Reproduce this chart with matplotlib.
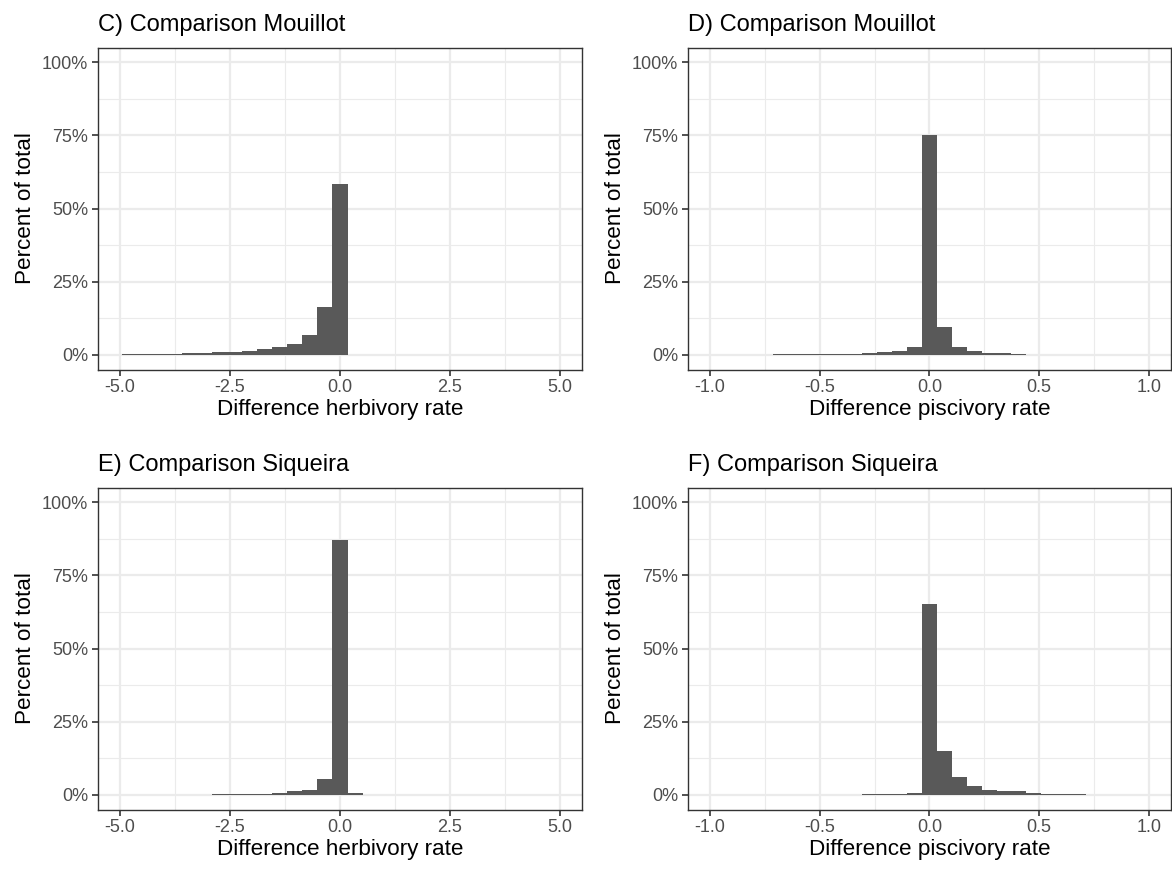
import numpy as np
import matplotlib
matplotlib.use("Agg")
import matplotlib.pyplot as plt
from matplotlib.ticker import FuncFormatter, MultipleLocator

plt.rcParams['font.family'] = ['Liberation Sans', 'DejaVu Sans']
plt.rcParams['axes.unicode_minus'] = False

# herbivory panels: bin width and bin index of the first bar (bins centred on k*width)
herb_width = 0.342
herb_C_start = -14
herb_C_pct = [0.2, 0.2, 0.45, 0.45, 0.8, 0.6, 1.0, 1.1, 1.5, 2.0, 2.6, 3.9, 6.9, 16.5, 58.5, 0.15]
herb_E_start = -14
herb_E_pct = [0, 0, 0.12, 0.12, 0.12, 0.12, 0.25, 0.25, 0.3, 0.3, 0.5, 1.2, 1.7, 5.6, 87.0, 0.8, 0.12]

# piscivory panels
pisc_width = 0.068
pisc_D_start = -14
pisc_D_pct = [0.12, 0.12, 0.12, 0.12, 0.25, 0.25, 0.25, 0.35, 0.4, 0.4, 0.6, 1.1, 1.5, 2.6,
              75.0, 9.5, 2.8, 1.4, 0.8, 0.5, 0.3, 0.12, 0.12, 0.12, 0, 0, 0.12]
pisc_F_start = -9
pisc_F_pct = [0.12, 0.12, 0.12, 0.12, 0.12, 0.25, 0.25, 0.25, 0.5,
              65.3, 15.0, 6.25, 3.2, 1.7, 1.25, 1.2, 0.55, 0.35, 0.3, 0.25, 0.12, 0.12, 0.12]

herb_ticks = [-5.0, -2.5, 0.0, 2.5, 5.0]
pisc_ticks = [-1.0, -0.5, 0.0, 0.5, 1.0]
y_ticks = [0, 25, 50, 75, 100]

panels = [
    ("C) Comparison Mouillot", "Difference herbivory rate", herb_C_pct, herb_C_start, herb_width, herb_ticks, [0.0836, 0.5747, 0.413, 0.3706]),
    ("D) Comparison Mouillot", "Difference piscivory rate", pisc_D_pct, pisc_D_start, pisc_width, pisc_ticks, [0.587, 0.5747, 0.412, 0.3706]),
    ("E) Comparison Siqueira", "Difference herbivory rate", herb_E_pct, herb_E_start, herb_width, herb_ticks, [0.0836, 0.0684, 0.413, 0.3706]),
    ("F) Comparison Siqueira", "Difference piscivory rate", pisc_F_pct, pisc_F_start, pisc_width, pisc_ticks, [0.587, 0.0684, 0.412, 0.3706]),
]

fig = plt.figure(figsize=(11.72, 8.69), dpi=100)

for title, xlabel, pct, start, width, xticks, rect in panels:
    ax = fig.add_axes(rect)
    centers = (start + np.arange(len(pct))) * width
    ax.bar(centers, pct, width=width, color='#595959', linewidth=0, zorder=3)

    span = xticks[-1] - xticks[0]
    ax.set_xlim(xticks[0] - 0.05 * span, xticks[-1] + 0.05 * span)
    ax.set_ylim(-5, 105)
    ax.set_xticks(xticks)
    ax.set_yticks(y_ticks)
    ax.xaxis.set_minor_locator(MultipleLocator((xticks[1] - xticks[0]) / 2))
    ax.yaxis.set_minor_locator(MultipleLocator(12.5))
    ax.xaxis.set_major_formatter(FuncFormatter(lambda v, p: f"{v:.1f}"))
    ax.yaxis.set_major_formatter(FuncFormatter(lambda v, p: f"{v:.0f}%"))

    ax.grid(which='major', color='#EBEBEB', linewidth=1.6, zorder=0)
    ax.grid(which='minor', color='#EBEBEB', linewidth=0.8, zorder=0)
    ax.set_axisbelow(True)
    for s in ax.spines.values():
        s.set_color('#333333')
        s.set_linewidth(1.0)
    ax.tick_params(which='major', length=4, width=1.2, color='#333333',
                   labelsize=13, labelcolor='#4D4D4D', pad=3)
    ax.tick_params(which='minor', length=0)

    ax.set_title(title, loc='left', fontsize=17, pad=12)
    ax.set_xlabel(xlabel, fontsize=16.2, labelpad=2)
    ax.set_ylabel("Percent of total", fontsize=16.2, labelpad=4)

fig.savefig("out.png", dpi=100)
